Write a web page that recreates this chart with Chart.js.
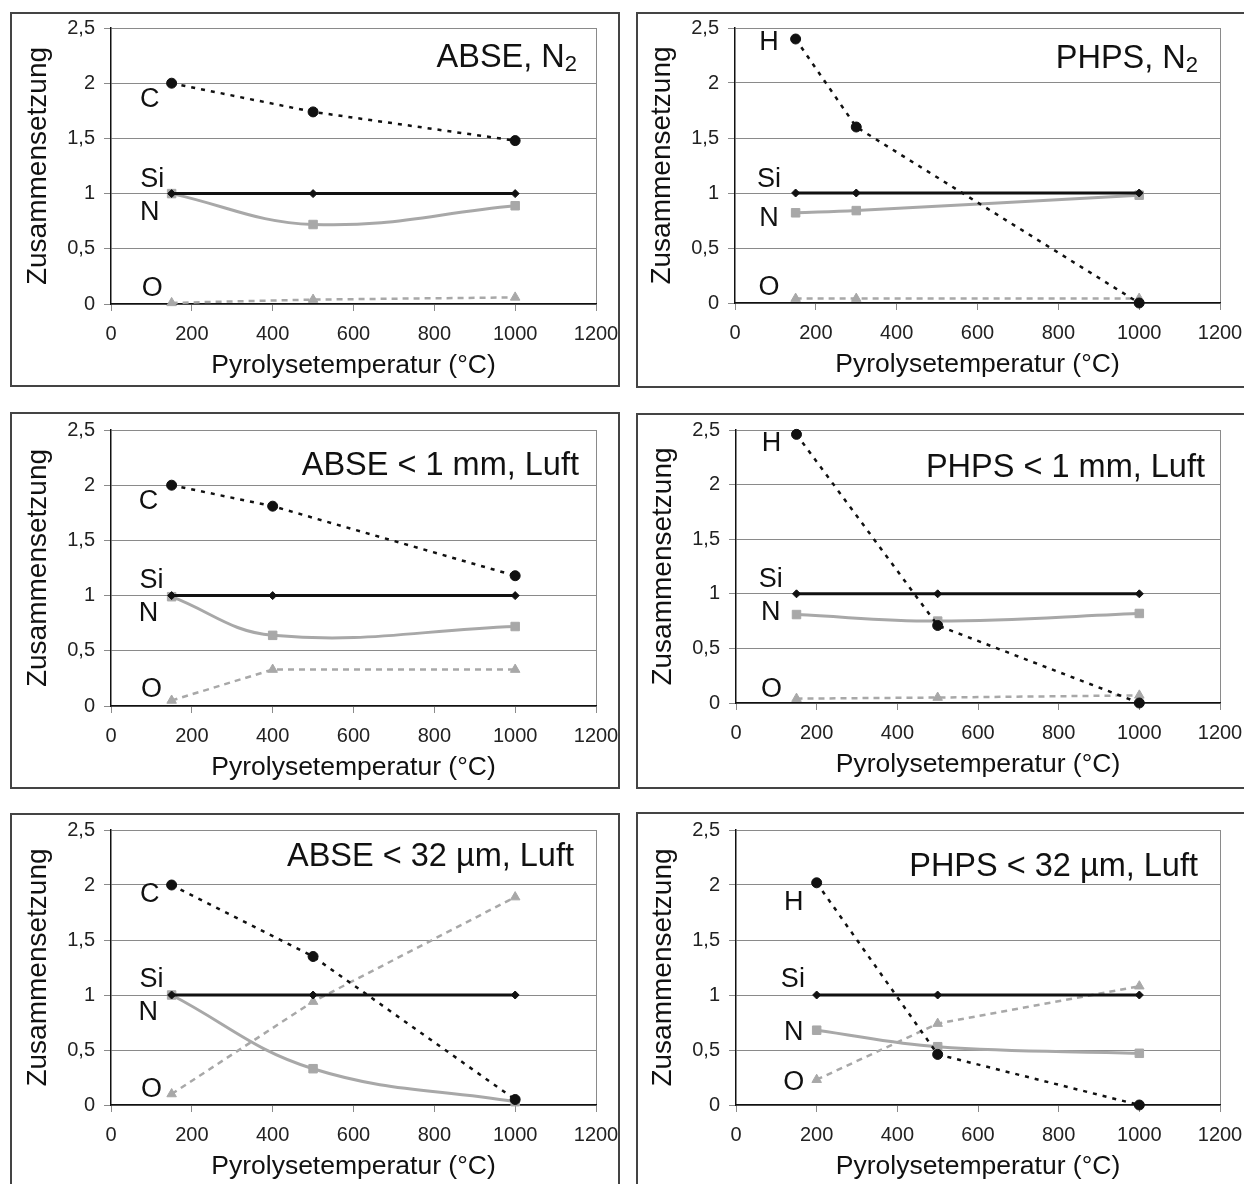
<!DOCTYPE html>
<html>
<head>
<meta charset="utf-8">
<script src="https://cdn.jsdelivr.net/npm/chart.js@4/dist/chart.umd.min.js"></script>
<style>
html, body { margin: 0; padding: 0; background: #fff; overflow: hidden; }
.box { position: absolute; border: 2px solid #444; box-sizing: border-box; }
.box canvas { position: absolute; left: 0; top: 0; }
</style>
</head>
<body>
<script>
// x values (Pyrolysetemperatur) and compositions per sample
// ABSE, N2
const abseN2_T  = [150, 500, 1000];
const abseN2_C  = [2.0, 1.74, 1.48];
const abseN2_Si = [1, 1, 1];
const abseN2_N  = [1.0, 0.72, 0.89];
const abseN2_O  = [0.01, 0.04, 0.06];

// PHPS, N2
const phpsN2_T  = [150, 300, 1000];
const phpsN2_H  = [2.4, 1.6, 0.0];
const phpsN2_Si = [1, 1, 1];
const phpsN2_N  = [0.82, 0.84, 0.98];
const phpsN2_O  = [0.04, 0.04, 0.04];

// ABSE < 1 mm, Luft
const abse1mm_T  = [150, 400, 1000];
const abse1mm_C  = [2.0, 1.81, 1.18];
const abse1mm_Si = [1, 1, 1];
const abse1mm_N  = [0.99, 0.64, 0.72];
const abse1mm_O  = [0.05, 0.33, 0.33];

// PHPS < 1 mm, Luft
const phps1mm_T  = [150, 500, 1000];
const phps1mm_H  = [2.46, 0.71, 0.0];
const phps1mm_Si = [1, 1, 1];
const phps1mm_N  = [0.81, 0.75, 0.82];
const phps1mm_O  = [0.04, 0.05, 0.07];

// ABSE < 32 µm, Luft
const abse32_T  = [150, 500, 1000];
const abse32_C  = [2.0, 1.35, 0.05];
const abse32_Si = [1, 1, 1];
const abse32_N  = [1.0, 0.33, 0.03];
const abse32_O  = [0.1, 0.94, 1.89];

// PHPS < 32 µm, Luft
const phps32_T  = [200, 500, 1000];
const phps32_H  = [2.02, 0.46, 0.0];
const phps32_Si = [1, 1, 1];
const phps32_N  = [0.68, 0.53, 0.47];
const phps32_O  = [0.23, 0.74, 1.08];

// tick labels
const xTickLabels = ['0', '200', '400', '600', '800', '1000', '1200'];
const yTickLabels = ['0', '0,5', '1', '1,5', '2', '2,5'];

const FONT = '"Liberation Sans", Arial, Helvetica, sans-serif';
const DARK = '#111';
const GREY = '#a8a8a8';

// line looks per element
const looks = {
    dot: { borderColor: DARK, backgroundColor: DARK, borderWidth: 2.5, borderDash: [4, 6], pointStyle: 'circle', pointRadius: 5, tension: 0 },
    Si:  { borderColor: DARK, backgroundColor: DARK, borderWidth: 3, pointStyle: 'rectRot', pointRadius: 4, tension: 0 },
    N:   { borderColor: GREY, backgroundColor: GREY, borderWidth: 3, pointStyle: 'rect', pointRadius: 6, tension: 0.4 },
    O:   { borderColor: GREY, backgroundColor: GREY, borderWidth: 2.5, borderDash: [6, 5], pointStyle: 'triangle', pointRadius: 5.5, tension: 0 },
};

const panels = [
    { title: [['ABSE, N', false], ['2', true]], T: abseN2_T,
      series: [['C', abseN2_C, 'dot'], ['Si', abseN2_Si, 'Si'], ['N', abseN2_N, 'N'], ['O', abseN2_O, 'O']],
      labels: [['C', 96, 1.85], ['Si', 102, 1.13], ['N', 96, 0.83], ['O', 102, 0.14]],
      box: [10, 12, 610, 375], plot: [111, 28, 596, 304], titleDx: 19, titleDy: 39 },
    { title: [['PHPS, N', false], ['2', true]], T: phpsN2_T,
      series: [['H', phpsN2_H, 'dot'], ['Si', phpsN2_Si, 'Si'], ['N', phpsN2_N, 'N'], ['O', phpsN2_O, 'O']],
      labels: [['H', 84, 2.37], ['Si', 84, 1.12], ['N', 84, 0.77], ['O', 84, 0.14]],
      box: [636, 12, 612, 376], plot: [735, 28, 1220, 303], titleDx: 22, titleDy: 40 },
    { title: [['ABSE < 1 mm, Luft', false]], T: abse1mm_T,
      series: [['C', abse1mm_C, 'dot'], ['Si', abse1mm_Si, 'Si'], ['N', abse1mm_N, 'N'], ['O', abse1mm_O, 'O']],
      labels: [['C', 93, 1.85], ['Si', 100, 1.14], ['N', 93, 0.84], ['O', 100, 0.15]],
      box: [10, 412, 610, 377], plot: [111, 430, 596, 706], titleDx: 17, titleDy: 45 },
    { title: [['PHPS < 1 mm, Luft', false]], T: phps1mm_T,
      series: [['H', phps1mm_H, 'dot'], ['Si', phps1mm_Si, 'Si'], ['N', phps1mm_N, 'N'], ['O', phps1mm_O, 'O']],
      labels: [['H', 88, 2.38], ['Si', 86, 1.13], ['N', 86, 0.83], ['O', 88, 0.12]],
      box: [636, 413, 612, 376], plot: [736, 430, 1220, 703], titleDx: 15, titleDy: 47 },
    { title: [['ABSE < 32 µm, Luft', false]], T: abse32_T,
      series: [['C', abse32_C, 'dot'], ['Si', abse32_Si, 'Si'], ['N', abse32_N, 'N'], ['O', abse32_O, 'O']],
      labels: [['C', 96, 1.91], ['Si', 100, 1.14], ['N', 92, 0.84], ['O', 100, 0.14]],
      box: [10, 813, 610, 380], plot: [111, 830, 596, 1105], titleDx: 22, titleDy: 36 },
    { title: [['PHPS < 32 µm, Luft', false]], T: phps32_T,
      series: [['H', phps32_H, 'dot'], ['Si', phps32_Si, 'Si'], ['N', phps32_N, 'N'], ['O', phps32_O, 'O']],
      labels: [['H', 143, 1.84], ['Si', 141, 1.14], ['N', 143, 0.66], ['O', 143, 0.2]],
      box: [636, 812, 612, 380], plot: [736, 830, 1220, 1105], titleDx: 22, titleDy: 46 },
];

// draws element letters and the panel title
function textPlugin(p) {
    return {
        id: 'panelText',
        afterDatasetsDraw(chart) {
            const { ctx, chartArea, scales } = chart;
            ctx.save();
            ctx.fillStyle = DARK;
            ctx.font = '27px ' + FONT;
            ctx.textAlign = 'center';
            ctx.textBaseline = 'middle';
            p.labels.forEach(l => {
                ctx.fillText(l[0], scales.x.getPixelForValue(l[1]), scales.y.getPixelForValue(l[2]));
            });

            // title, right aligned, with optional subscript
            const big = '32.5px ' + FONT, small = '22px ' + FONT;
            let w = 0;
            p.title.forEach(t => { ctx.font = t[1] ? small : big; w += ctx.measureText(t[0]).width; });
            let x = chartArea.right - p.titleDx - w;
            const base = chartArea.top + p.titleDy;
            ctx.textAlign = 'left';
            ctx.textBaseline = 'alphabetic';
            p.title.forEach(t => {
                ctx.font = t[1] ? small : big;
                ctx.fillText(t[0], x, base + (t[1] ? 4 : 0));
                x += ctx.measureText(t[0]).width;
            });
            ctx.restore();
        }
    };
}

panels.forEach((p, idx) => {
    const [bl, bt, bw, bh] = p.box;
    const [pl, pt, pr, pb] = p.plot;
    const box = document.createElement('div');
    box.className = 'box';
    box.style.left = bl + 'px';
    box.style.top = bt + 'px';
    box.style.width = bw + 'px';
    box.style.height = bh + 'px';
    const canvas = document.createElement('canvas');
    const cl = bl + 2, ct = bt + 2;
    const cw = bw - 4 + 8, ch = bh - 4;
    canvas.width = cw;
    canvas.height = ch;
    canvas.style.width = cw + 'px';
    canvas.style.height = ch + 'px';
    box.appendChild(canvas);
    document.body.appendChild(box);

    const yAxisWidth = pl - cl;
    const xAxisHeight = ct + ch - pb;
    const padTop = pt - ct;
    const padRight = cl + cw - pr;
    const yTitlePad = (pl - 73) - cl - 28 * 1.2 / 2;
    const xTitlePad = (ct + ch) - (pb + 62) - 26.5 * 1.2 / 2;

    const datasets = p.series.map(s => Object.assign({
        label: s[0],
        data: p.T.map((t, i) => ({ x: t, y: s[1][i] })),
        pointBorderWidth: 1,
        clip: false,
    }, looks[s[2]], { pointBorderColor: looks[s[2]].borderColor }));

    new Chart(canvas.getContext('2d'), {
        type: 'line',
        data: { datasets },
        plugins: [textPlugin(p)],
        options: {
            responsive: false,
            animation: false,
            events: [],
            layout: { padding: { top: padTop, right: padRight, left: 0, bottom: 0 } },
            plugins: { legend: { display: false }, tooltip: { enabled: false } },
            scales: {
                x: {
                    type: 'linear',
                    min: 0, max: 1200,
                    afterBuildTicks: s => { s.ticks = xTickLabels.map(v => ({ value: Number(v) })); },
                    afterFit: s => { s.height = xAxisHeight; s.paddingLeft = 0; s.paddingRight = 0; },
                    grid: {
                        drawOnChartArea: true,
                        color: c => (c.tick && c.tick.value === 1200) ? '#8a8a8a' : 'rgba(0,0,0,0)',
                        tickColor: '#8a8a8a',
                        tickLength: 7,
                        lineWidth: 1,
                    },
                    border: { color: DARK, width: 1.5 },
                    ticks: {
                        color: '#222',
                        font: { family: FONT, size: 20 },
                        padding: 11,
                        maxRotation: 0,
                        autoSkip: false,
                        callback: (v, i) => xTickLabels[i],
                    },
                    title: {
                        display: true,
                        text: 'Pyrolysetemperatur (°C)',
                        color: DARK,
                        font: { family: FONT, size: 26.5 },
                        padding: { top: 0, bottom: xTitlePad },
                    },
                },
                y: {
                    min: 0, max: 2.5,
                    afterBuildTicks: s => { s.ticks = [0, 0.5, 1, 1.5, 2, 2.5].map(v => ({ value: v })); },
                    afterFit: s => { s.width = yAxisWidth; s.paddingTop = 0; s.paddingBottom = 0; },
                    grid: { color: '#8a8a8a', tickColor: '#8a8a8a', tickLength: 7, lineWidth: 1 },
                    border: { color: DARK, width: 1.5 },
                    ticks: {
                        color: '#222',
                        font: { family: FONT, size: 20 },
                        padding: 9,
                        autoSkip: false,
                        callback: (v, i) => yTickLabels[i],
                    },
                    title: {
                        display: true,
                        text: 'Zusammensetzung',
                        color: DARK,
                        font: { family: FONT, size: 28 },
                        padding: { top: yTitlePad, bottom: 0 },
                    },
                },
            },
        },
    });
});
</script>
</body>
</html>
